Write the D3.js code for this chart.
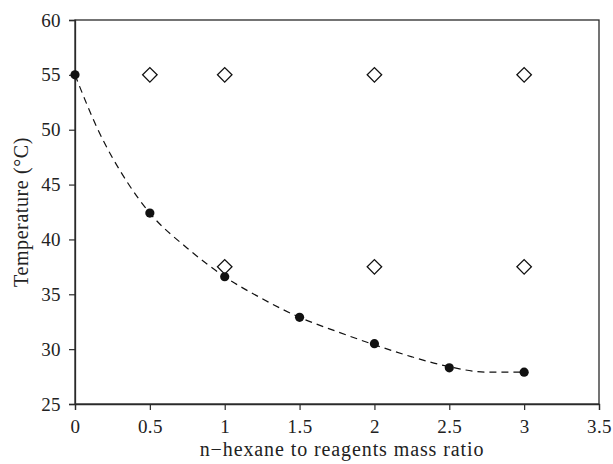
<!DOCTYPE html>
<html>
<head>
<meta charset="utf-8">
<script src="https://cdn.jsdelivr.net/npm/d3@7"></script>
<style>
  body { margin: 0; background: #fff; }
  svg { font-family: "Liberation Serif", "DejaVu Serif", serif; }
</style>
</head>
<body>
<script>
// measured points (filled circles)
const ratio = [0, 0.5, 1, 1.5, 2, 2.5, 3]
const temp = [55, 42.4, 36.6, 32.9, 30.5, 28.3, 27.9]

// open diamonds
const diamondX = [0.5, 1, 2, 3, 1, 2, 3]
const diamondY = [55, 55, 55, 55, 37.5, 37.5, 37.5]

// dashed trend line
const trendX = [0, 0.15, 0.35, 0.5, 0.75, 1, 1.25, 1.5, 1.75, 2, 2.25, 2.5, 2.75, 3]
const trendY = [55, 50.1, 45.2, 42.4, 39.2, 36.6, 34.6, 32.9, 31.6, 30.4, 29.3, 28.4, 27.9, 27.9]

const xTicks = [0, 0.5, 1, 1.5, 2, 2.5, 3, 3.5]
const yTicks = [25, 30, 35, 40, 45, 50, 55, 60]

const W = 613, H = 464
const margin = { top: 20, right: 14, bottom: 60, left: 75 }
const iw = W - margin.left - margin.right
const ih = H - margin.top - margin.bottom
const ink = '#2a2a2a'

const svg = d3.select('body').append('svg')
  .attr('width', W)
  .attr('height', H)

const g = svg.append('g')
  .attr('transform', `translate(${margin.left},${margin.top})`)

const x = d3.scaleLinear().domain([0, 3.5]).range([0, iw])
const y = d3.scaleLinear().domain([25, 60]).range([ih, 0])

// frame
g.append('rect')
  .attr('width', iw)
  .attr('height', ih)
  .attr('fill', 'none')
  .attr('stroke', ink)
  .attr('stroke-width', 1.3)

const xAxis = g.append('g')
  .attr('transform', `translate(0,${ih})`)
  .call(d3.axisBottom(x).tickValues(xTicks).tickSize(6).tickPadding(10).tickFormat(d3.format('')))
const yAxis = g.append('g')
  .call(d3.axisLeft(y).tickValues(yTicks).tickSize(6).tickPadding(8))

;[xAxis, yAxis].forEach(a => {
  a.select('.domain').attr('stroke', ink).attr('stroke-width', 1.3)
  a.selectAll('.tick line').attr('stroke', ink).attr('stroke-width', 1.2)
  a.selectAll('.tick text')
    .attr('fill', '#222')
    .style('font-family', '"Liberation Serif", serif')
    .style('font-size', '19px')
    .style('letter-spacing', '0.4px')
})

// trend curve
const line = d3.line()
  .x((d, i) => x(trendX[i]))
  .y(d => y(d))
  .curve(d3.curveMonotoneX)

g.append('path')
  .datum(trendY)
  .attr('d', line)
  .attr('fill', 'none')
  .attr('stroke', '#111')
  .attr('stroke-width', 1.2)
  .attr('stroke-dasharray', '7,5')

// diamonds
const diamond = d3.symbol().type(d3.symbolSquare).size(105)
g.selectAll('.diamond')
  .data(diamondY)
  .enter()
  .append('path')
  .attr('class', 'diamond')
  .attr('d', diamond)
  .attr('transform', (d, i) => `translate(${x(diamondX[i])},${y(d)}) rotate(45)`)
  .attr('fill', '#fff')
  .attr('stroke', '#111')
  .attr('stroke-width', 1.3)

// circles
g.selectAll('.pt')
  .data(temp)
  .enter()
  .append('circle')
  .attr('class', 'pt')
  .attr('cx', (d, i) => x(ratio[i]))
  .attr('cy', d => y(d))
  .attr('r', 4.6)
  .attr('fill', '#111')

// axis titles
svg.append('text')
  .attr('x', 342)
  .attr('y', 456)
  .attr('text-anchor', 'middle')
  .attr('fill', '#222')
  .style('font-size', '20px')
  .style('letter-spacing', '0.9px')
  .text('n\u2212hexane to reagents mass ratio')

svg.append('text')
  .attr('transform', `translate(28,${margin.top + ih / 2}) rotate(-90)`)
  .attr('text-anchor', 'middle')
  .attr('fill', '#222')
  .style('font-size', '20px')
  .style('letter-spacing', '0.6px')
  .text('Temperature (\u00b0C)')
</script>
</body>
</html>
